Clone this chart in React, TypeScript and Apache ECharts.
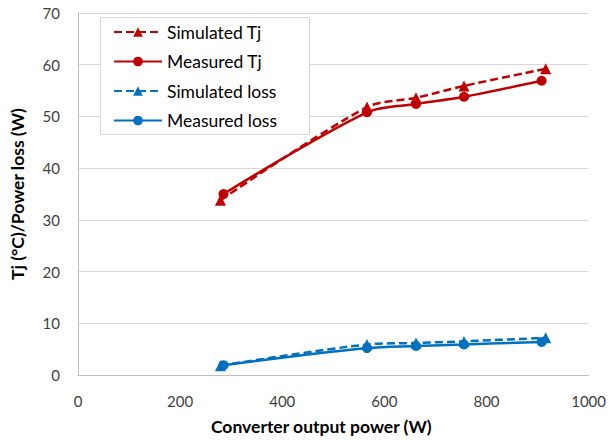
import React, { useEffect, useRef } from "react";
import * as echarts from "echarts";

const simTjX = [279, 566, 662, 756, 916];
const simTj = [33.8, 51.8, 53.6, 55.9, 59.2];
const measTjX = [285, 566, 662, 756, 908];
const measTj = [35.0, 50.8, 52.4, 53.8, 56.9];
const simLossX = [279, 566, 662, 756, 916];
const simLoss = [1.8, 5.9, 6.2, 6.5, 7.2];
const measLossX = [285, 566, 662, 756, 908];
const measLoss = [1.9, 5.2, 5.6, 5.9, 6.4];
const legendNames = ["Simulated Tj", "Measured Tj", "Simulated loss", "Measured loss"];

const RED = "#c00000";
const BLUE = "#0070c0";
const FONT = "Lato, 'Open Sans', sans-serif";

const zip = (xs: number[], ys: number[]) => xs.map((x, i) => [x, ys[i]]);

export default function App() {
  const ref = useRef<HTMLDivElement>(null);
  useEffect(() => {
    document.body.style.margin = "0";
    const chart = echarts.init(ref.current!, undefined, { renderer: "svg" });
    const mk = (name: string, xs: number[], ys: number[], color: string, dashed: boolean, symbol: string) => ({
      name,
      type: "line",
      data: zip(xs, ys),
      smooth: 0.3,
      symbol,
      symbolSize: symbol === "triangle" ? 11 : 10,
      lineStyle: { color, width: 2.5, type: dashed ? [8, 4] : "solid" },
      itemStyle: { color },
      z: dashed ? 3 : 2,
    });
    chart.setOption({
      animation: false,
      textStyle: { fontFamily: FONT },
      grid: { left: 78, right: 19, top: 13, bottom: 65 },
      graphic: {
        elements: [
          {
            type: "rect",
            left: 100,
            top: 17,
            z: 3,
            shape: { width: 209, height: 117 },
            style: { fill: "#ffffff", stroke: "#d9d9d9", lineWidth: 1 },
          },
        ],
      },
      legend: {
        orient: "vertical",
        left: 100,
        top: 17,
        z: 5,
        padding: [6, 10, 7, 13],
        itemWidth: 48,
        itemHeight: 12,
        itemGap: 11.5,
        textStyle: { fontSize: 17.5, color: "#000", fontFamily: FONT },
        data: legendNames,
      },
      xAxis: {
        type: "value",
        min: 0,
        max: 1000,
        interval: 200,
        name: "Converter output power (W)",
        nameLocation: "middle",
        nameGap: 42,
        nameTextStyle: {
          fontSize: 17.5,
          fontWeight: "bold",
          color: "#000",
          fontFamily: FONT,
          padding: [0, 24, 0, 0],
        },
        axisLine: { show: true, lineStyle: { color: "#bfbfbf", width: 1 } },
        axisTick: { show: false },
        splitLine: { show: false },
        axisLabel: {
          fontSize: 15,
          color: "#404040",
          margin: 18,
          fontFamily: FONT,
          formatter: (v: number) => String(v),
        },
      },
      yAxis: {
        type: "value",
        min: 0,
        max: 70,
        interval: 10,
        name: "Tj (°C)/Power loss (W)",
        nameLocation: "middle",
        nameGap: 52,
        nameTextStyle: { fontSize: 17.5, fontWeight: "bold", color: "#000", fontFamily: FONT },
        axisLine: { show: true, lineStyle: { color: "#bfbfbf", width: 1 } },
        axisTick: { show: false },
        splitLine: { show: true, lineStyle: { color: "#d9d9d9", width: 1 } },
        axisLabel: { fontSize: 15, color: "#404040", margin: 18, fontFamily: FONT },
      },
      series: [
        mk("Simulated Tj", simTjX, simTj, RED, true, "triangle"),
        mk("Measured Tj", measTjX, measTj, RED, false, "circle"),
        mk("Simulated loss", simLossX, simLoss, BLUE, true, "triangle"),
        mk("Measured loss", measLossX, measLoss, BLUE, false, "circle"),
      ],
    });
    return () => chart.dispose();
  }, []);
  return <div ref={ref} style={{ width: 609, height: 440 }} />;
}
